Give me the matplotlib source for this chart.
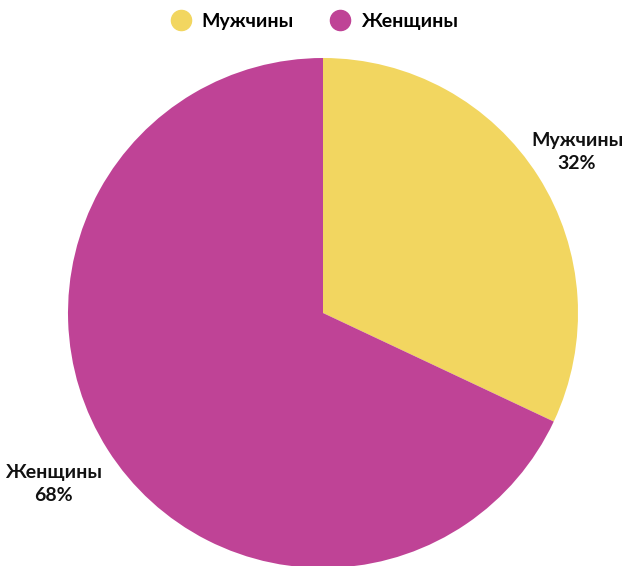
import numpy as np
import matplotlib.pyplot as plt
from matplotlib.lines import Line2D

plt.rcParams['font.family'] = ['Lato', 'DejaVu Sans']

labels = ['Мужчины', 'Женщины']
values = [32, 68]
colors = ['#F2D660', '#BF4396']
label_dist = [1.18, 1.25]

fig = plt.figure(figsize=(6.27, 5.66), dpi=100)
# square axes so pie radius = 255 px, centre at (323, 313)
ax = fig.add_axes([68 / 627, -2 / 566, 510 / 627, 510 / 566])
wedges, _ = ax.pie(values, colors=colors, startangle=90, counterclock=False,
                   radius=1, wedgeprops=dict(linewidth=0))
ax.set_xlim(-1, 1)
ax.set_ylim(-1, 1)
ax.set_aspect('auto')
ax.axis('off')

for w, lab, v, d in zip(wedges, labels, values, label_dist):
    ang = np.deg2rad((w.theta1 + w.theta2) / 2)
    ax.text(d * np.cos(ang), d * np.sin(ang), f'{lab}\n{v}%',
            ha='center', va='center', fontsize=14, fontweight='bold',
            color='#111111', linespacing=1.4, clip_on=False)

handles = [Line2D([], [], marker='o', linestyle='', markersize=14.5,
                  markerfacecolor=c, markeredgecolor=c) for c in colors]
fig.legend(handles, labels, loc='center', bbox_to_anchor=(0.5, 1 - 21 / 566),
           ncol=2, frameon=False, handletextpad=0.45, handlelength=1.2,
           columnspacing=1.8, prop=dict(weight='bold', size=14))

fig.savefig('out.png', dpi=100)
